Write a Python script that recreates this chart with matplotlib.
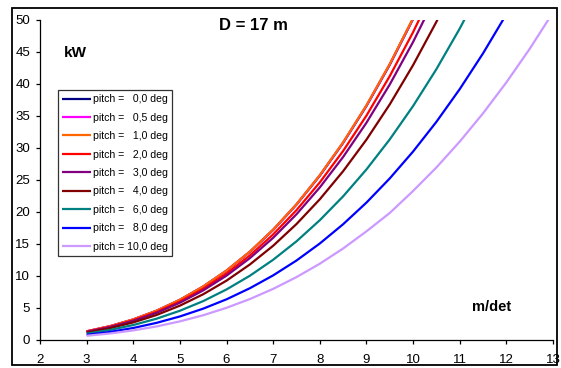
import matplotlib
matplotlib.use("Agg")
import matplotlib.pyplot as plt
from matplotlib.patches import Rectangle

plt.rcParams['font.family'] = ['Liberation Sans', 'DejaVu Sans']

speed = [3, 3.5, 4, 4.5, 5, 5.5, 6, 6.5, 7, 7.5, 8, 8.5, 9, 9.5, 10, 10.5, 11, 11.5, 12, 12.5, 13]

p00 = [1.35, 2.15, 3.21, 4.57, 6.27, 8.35, 10.83, 13.77, 17.20, 21.16, 25.68, 30.80, 36.57, 43.01, 50.16]
p05 = [1.36, 2.16, 3.22, 4.58, 6.28, 8.36, 10.85, 13.79, 17.23, 21.19, 25.72, 30.85, 36.62, 43.07, 50.23]
p10 = [1.36, 2.16, 3.22, 4.58, 6.29, 8.37, 10.86, 13.81, 17.25, 21.22, 25.75, 30.89, 36.67, 43.13, 50.30]
p20 = [1.30, 2.06, 3.08, 4.38, 6.01, 8.00, 10.39, 13.21, 16.50, 20.29, 24.63, 29.54, 35.06, 41.24, 48.10, 55.68]
p30 = [1.26, 2.00, 2.98, 4.24, 5.82, 7.75, 10.06, 12.79, 15.97, 19.65, 23.84, 28.60, 33.95, 39.93, 46.57, 53.91]
p40 = [1.16, 1.84, 2.75, 3.91, 5.37, 7.15, 9.28, 11.80, 14.73, 18.12, 21.99, 26.38, 31.31, 36.82, 42.95, 49.72, 57.17]
p60 = [0.99, 1.57, 2.34, 3.33, 4.57, 6.08, 7.90, 10.04, 12.54, 15.42, 18.72, 22.45, 26.65, 31.35, 36.56, 42.32, 48.66, 55.60]
p80 = [0.80, 1.26, 1.88, 2.68, 3.68, 4.90, 6.36, 8.09, 10.10, 12.42, 15.08, 18.09, 21.47, 25.25, 29.45, 34.09, 39.20, 44.79, 50.89]
p100 = [0.66, 1.02, 1.50, 2.12, 2.91, 3.87, 5.03, 6.40, 7.99, 9.83, 11.92, 14.30, 16.98, 19.85, 23.29, 26.96, 31.00, 35.42, 40.25, 45.49, 51.17]

labels = ["pitch =   0,0 deg", "pitch =   0,5 deg", "pitch =   1,0 deg", "pitch =   2,0 deg",
          "pitch =   3,0 deg", "pitch =   4,0 deg", "pitch =   6,0 deg", "pitch =   8,0 deg",
          "pitch = 10,0 deg"]
series = [p00, p05, p10, p20, p30, p40, p60, p80, p100]
colors = ["#000080", "#FF00FF", "#FF6600", "#FF0000", "#800080", "#800000", "#008080", "#0000FF", "#CC99FF"]

W, H = 561, 368
fig = plt.figure(figsize=(W / 100, H / 100), dpi=100)
ax = fig.add_axes([40 / W, 1 - 340 / H, (553 - 40) / W, (340 - 20) / H])

for vals, lab, col in zip(series, labels, colors):
    ax.plot(speed[:len(vals)], vals, color=col, lw=1.6, label=lab, solid_capstyle='butt')

ax.set_xlim(2, 13)
ax.set_ylim(0, 50)
ax.set_xticks(range(2, 14))
ax.set_yticks(range(0, 51, 5))
for s in ['top', 'right']:
    ax.spines[s].set_visible(False)
for s in ['left', 'bottom']:
    ax.spines[s].set_color('#000000')
    ax.spines[s].set_linewidth(0.9)
ax.tick_params(axis='both', direction='out', length=3, width=0.9, labelsize=9.5, colors='black')
ax.tick_params(axis='y', pad=4)
ax.tick_params(axis='x', pad=7)

fig.text(253 / W, 1 - 26 / H, "D = 17 m", ha='center', va='center', fontsize=12, fontweight='bold')
fig.text(75 / W, 1 - 53 / H, "kW", ha='center', va='center', fontsize=11, fontweight='bold')
fig.text(492 / W, 1 - 307 / H, "m/det", ha='center', va='center', fontsize=10.5, fontweight='bold')

leg = ax.legend(loc='upper left', bbox_to_anchor=(58 / W, 1 - 90 / H), bbox_transform=fig.transFigure,
                fontsize=7.6, frameon=True, fancybox=False, handlelength=2.7, handletextpad=0.25,
                labelspacing=0.8, borderpad=0.4, borderaxespad=0)
leg.get_frame().set_edgecolor('black')
leg.get_frame().set_linewidth(0.9)

fig.add_artist(Rectangle((12 / W, 3 / H), (557 - 12) / W, (365 - 8) / H, transform=fig.transFigure,
                         fill=False, edgecolor='black', lw=1.3))

fig.savefig("out.png", dpi=100)
